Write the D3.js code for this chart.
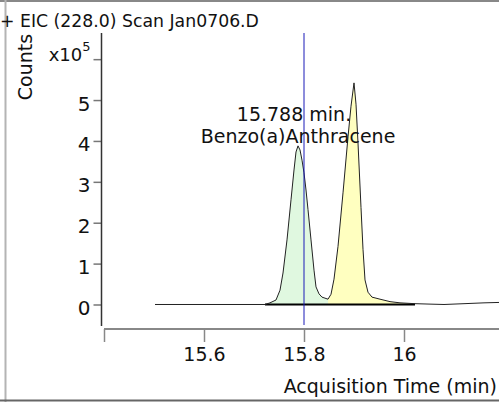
<!DOCTYPE html>
<html><head><meta charset="utf-8">
<script src="https://cdn.jsdelivr.net/npm/d3@7"></script>
<style>
html,body{margin:0;padding:0;background:#fff;}
svg{display:block;font-family:"DejaVu Sans",Verdana,sans-serif;}
</style></head>
<body>
<svg id="c" width="499" height="402"></svg>
<script>
// ---- data ----
const titleText = "+ EIC (228.0) Scan Jan0706.D";
const xLabel = "Acquisition Time (min)";
const yLabel = "Counts";
const xTicks = [15.4, 15.6, 15.8, 16.0];
const yTicks = [0, 1, 2, 3, 4, 5, 6];
const cursorTime = 15.8;
const peakLabel = ["15.788 min.", "Benzo(a)Anthracene"];
// trace (time in min, counts x1e5)
const traceTime = [15.502, 15.56, 15.62, 15.68, 15.722, 15.732, 15.744, 15.752, 15.758, 15.766, 15.774, 15.780, 15.784, 15.788, 15.792, 15.796, 15.800, 15.804, 15.808, 15.814, 15.820, 15.824, 15.830, 15.836, 15.848, 15.854, 15.860, 15.868, 15.878, 15.888, 15.894, 15.900, 15.904, 15.908, 15.914, 15.918, 15.922, 15.928, 15.936, 15.952, 15.972, 15.992, 16.022, 16.05, 16.08, 16.12, 16.16, 16.19];
const traceCounts = [0.0, 0.0, 0.0, 0.0, 0.0, 0.04, 0.11, 0.35, 0.77, 1.58, 2.56, 3.29, 3.73, 3.88, 3.78, 3.53, 3.22, 2.80, 2.32, 1.58, 0.84, 0.43, 0.26, 0.18, 0.13, 0.25, 0.62, 1.42, 2.73, 4.10, 4.85, 5.42, 4.90, 3.95, 2.37, 1.35, 0.60, 0.30, 0.18, 0.13, 0.07, 0.04, 0.02, 0.01, 0.0, 0.02, 0.04, 0.05];
// integrated peaks: [start, end] in min
const peak1 = [15.722, 15.848];
const peak2 = [15.848, 16.022];

// ---- drawing ----
const svg = d3.select("#c");
const W = 499, H = 402;
const x = d3.scaleLinear().domain([15.4, 16.19]).range([104, 499]);
const y = d3.scaleLinear().domain([-0.526, 6.64]).range([326, 33]);

// frame
svg.append("line").attr("x1",0).attr("x2",W).attr("y1",1).attr("y2",1).attr("stroke","#888").attr("stroke-width",2);
svg.append("line").attr("x1",5.5).attr("x2",5.5).attr("y1",0).attr("y2",H).attr("stroke","#b4b4b4").attr("stroke-width",2);
svg.append("line").attr("x1",0).attr("x2",W).attr("y1",400.5).attr("y2",400.5).attr("stroke","#666").attr("stroke-width",2);

const pts = traceTime.map((t,i)=>[t, traceCounts[i]]);
const area = d3.area().x(d=>x(d[0])).y0(y(0)).y1(d=>y(d[1]));
const seg = r => pts.filter(d=>d[0]>=r[0]-1e-9 && d[0]<=r[1]+1e-9);
svg.append("path").datum(seg(peak1)).attr("d",area).attr("fill","#e0f8e0");
svg.append("path").datum(seg(peak2)).attr("d",area).attr("fill","#ffffc0");

// integration baselines
[peak1, peak2].forEach(p=>{
  svg.append("line").attr("x1",x(p[0])).attr("x2",x(p[1])).attr("y1",y(0)).attr("y2",y(0)).attr("stroke","#000").attr("stroke-width",2);
});

// trace
svg.append("path").datum(pts).attr("d",d3.line().x(d=>x(d[0])).y(d=>y(d[1])))
  .attr("fill","none").attr("stroke","#222").attr("stroke-width",1);

// cursor
svg.append("line").attr("x1",x(cursorTime)).attr("x2",x(cursorTime)).attr("y1",33).attr("y2",325)
  .attr("stroke","#1a1ab8").attr("stroke-width",1);

// peak label
const pl = svg.append("text").attr("font-size",19).attr("text-anchor","middle").attr("fill","#111");
pl.append("tspan").attr("x",294).attr("y",121).text(peakLabel[0]);
pl.append("tspan").attr("x",298).attr("y",143).text(peakLabel[1]);

// y axis
const ya = svg.append("g").attr("transform","translate(101.5,0)")
  .call(d3.axisLeft(y).tickValues(yTicks).tickSize(8).tickPadding(3).tickFormat(d=>d===6?"":d));
ya.select(".domain").remove();
ya.append("line").attr("x1",0).attr("x2",0).attr("y1",33).attr("y2",326).attr("stroke","#333").attr("stroke-width",1.5);
ya.selectAll(".tick line").attr("stroke","#777").attr("stroke-width",1.5);
ya.selectAll(".tick text").attr("font-size",20).attr("font-family","DejaVu Sans").attr("fill","#111").attr("dy","0.5em");
const t6 = ya.selectAll(".tick").filter(d=>d===6).select("text").attr("font-size",18).attr("dy","0.05em");
t6.append("tspan").text("x10");
t6.append("tspan").attr("font-size",13).attr("dy","-0.75em").text("5");

// x axis
const xa = svg.append("g").attr("transform","translate(0,329)")
  .call(d3.axisBottom(x).tickValues(xTicks).tickSize(13).tickPadding(6).tickSizeOuter(0)
    .tickFormat(d=>d===15.4?"":String(+d.toFixed(1))));
xa.select(".domain").remove();
xa.append("line").attr("x1",104).attr("x2",W).attr("y1",0).attr("y2",0).attr("stroke","#888").attr("stroke-width",2);
xa.selectAll(".tick line").attr("stroke","#888").attr("stroke-width",1.5);
xa.selectAll(".tick text").attr("font-size",19).attr("font-family","DejaVu Sans").attr("fill","#111");

// texts
svg.append("text").attr("x",0).attr("y",27).attr("font-size",17.3).attr("fill","#111").text(titleText);
svg.append("text").attr("x",497).attr("y",393).attr("text-anchor","end").attr("font-size",19).attr("fill","#111").text(xLabel);
svg.append("text").attr("transform","translate(32,67) rotate(-90)").attr("text-anchor","middle").attr("font-size",19).attr("fill","#111").text(yLabel);
</script>
</body></html>
